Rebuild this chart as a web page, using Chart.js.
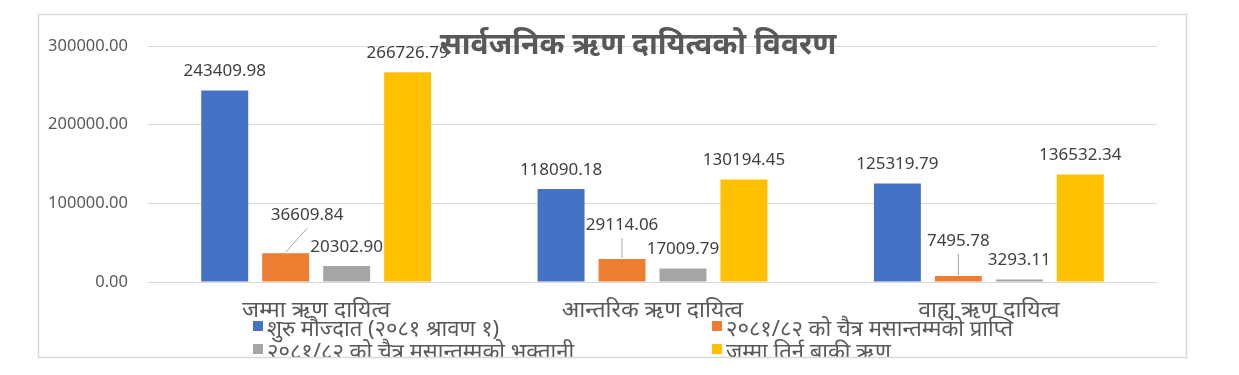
<!DOCTYPE html>
<html>
<head>
<meta charset="utf-8">
<script src="https://cdn.jsdelivr.net/npm/chart.js@4"></script>
<style>
    html, body { margin: 0; padding: 0; background: #fff; overflow: hidden; }
    #wrap { position: relative; width: 1239px; height: 375px; }
</style>
</head>
<body>
<div id="wrap"><canvas id="debt-chart"></canvas></div>
<script>
// Chart data
const categories = ['जम्मा ऋण दायित्व', 'आन्तरिक ऋण दायित्व', 'वाह्य ऋण दायित्व'];
const seriesNames = [
    'शुरु मौज्दात (२०८१ श्रावण १)',
    '२०८१/८२ को चैत्र मसान्तम्मको प्राप्ति',
    '२०८१/८२ को चैत्र मसान्तम्मको भुक्तानी',
    'जम्मा तिर्न बाकी ऋण'
];
const openingBalance = [243409.98, 118090.18, 125319.79];
const receivedTillChaitra = [36609.84, 29114.06, 7495.78];
const paidTillChaitra = [20302.90, 17009.79, 3293.11];
const remainingDebt = [266726.79, 130194.45, 136532.34];
const chartTitle = 'सार्वजनिक ऋण दायित्वको विवरण';

const seriesColors = ['#4472C4', '#ED7D31', '#A5A5A5', '#FFC000'];
const textFont = '"Noto Sans", "Noto Sans Devanagari", sans-serif';

const datasets = [openingBalance, receivedTillChaitra, paidTillChaitra, remainingDebt].map((values, i) => ({
    label: seriesNames[i],
    data: values,
    backgroundColor: seriesColors[i],
    borderWidth: 0,
    categoryPercentage: 0.725,
    barPercentage: 0.77
}));

// frame, title, value labels and two-column legend
const decorPlugin = {
    id: 'decor',
    beforeDraw(chart) {
        const ctx = chart.ctx;
        ctx.save();
        ctx.fillStyle = '#fff';
        ctx.fillRect(0, 0, chart.width, chart.height);
        ctx.restore();
    },
    afterDatasetsDraw(chart, args, opts) {
        const ctx = chart.ctx;
        ctx.save();
        ctx.font = '17px ' + textFont;
        ctx.fillStyle = '#404040';
        ctx.textAlign = 'center';
        ctx.textBaseline = 'middle';
        chart.data.datasets.forEach((ds, i) => {
            const meta = chart.getDatasetMeta(i);
            meta.data.forEach((bar, j) => {
                const shift = (opts.callouts[i] && opts.callouts[i][j]) || [0, -19];
                const lx = bar.x + shift[0];
                const ly = bar.y + shift[1];
                if (opts.callouts[i]) {
                    ctx.strokeStyle = '#a6a6a6';
                    ctx.lineWidth = 1;
                    ctx.beginPath();
                    ctx.moveTo(bar.x, bar.y - 1);
                    ctx.lineTo(lx, ly + 13);
                    ctx.stroke();
                }
                ctx.fillText(ds.data[j].toFixed(2), lx, ly);
            });
        });
        ctx.restore();
    },
    afterDraw(chart, args, opts) {
        const ctx = chart.ctx;
        ctx.save();
        // title on top of the grid
        ctx.font = 'bold 30px ' + textFont;
        ctx.fillStyle = '#595959';
        ctx.textAlign = 'center';
        ctx.textBaseline = 'middle';
        ctx.fillText(opts.title, 638, 45);

        // legend, clipped by the frame like the original
        ctx.beginPath();
        ctx.rect(38, 14, 1148, 343);
        ctx.clip();
        ctx.font = '22px ' + textFont;
        ctx.textAlign = 'left';
        const cols = [253, 712];
        const rows = [321, 344];
        chart.data.datasets.forEach((ds, i) => {
            const x = cols[i % 2];
            const y = rows[Math.floor(i / 2)];
            ctx.fillStyle = ds.backgroundColor;
            ctx.fillRect(x, y, 10, 10);
            ctx.fillStyle = '#595959';
            ctx.fillText(ds.label, x + 14, y + 9);
        });
        ctx.restore();

        ctx.save();
        ctx.strokeStyle = '#d9d9d9';
        ctx.lineWidth = 1.5;
        ctx.strokeRect(38.5, 14.5, 1148, 343);
        ctx.restore();
    }
};

const ctx = document.getElementById('debt-chart').getContext('2d');
new Chart(ctx, {
    type: 'bar',
    data: { labels: categories, datasets: datasets },
    plugins: [decorPlugin],
    options: {
        responsive: true,
        maintainAspectRatio: false,
        animation: false,
        layout: { padding: { left: 0, right: 82, top: 46, bottom: 0 } },
        plugins: {
            legend: { display: false },
            tooltip: { enabled: false },
            decor: {
                title: chartTitle,
                // label shifts for the orange bars, with leader lines
                callouts: { 1: [[21.5, -38], [0, -34], [0, -35]] }
            }
        },
        scales: {
            x: {
                grid: { display: false },
                border: { display: false },
                ticks: {
                    color: '#595959',
                    padding: 7,
                    font: { family: textFont, size: 23 }
                },
                afterFit(scale) { scale.height = 93; }
            },
            y: {
                min: 0,
                max: 300000,
                border: { display: false },
                grid: { color: '#d9d9d9', drawTicks: false, lineWidth: 1 },
                ticks: {
                    stepSize: 100000,
                    color: '#595959',
                    padding: 20,
                    font: { family: textFont, size: 16.5 },
                    callback: (v) => v.toFixed(2)
                },
                afterFit(scale) { scale.width = 148; }
            }
        }
    }
});
</script>
</body>
</html>
